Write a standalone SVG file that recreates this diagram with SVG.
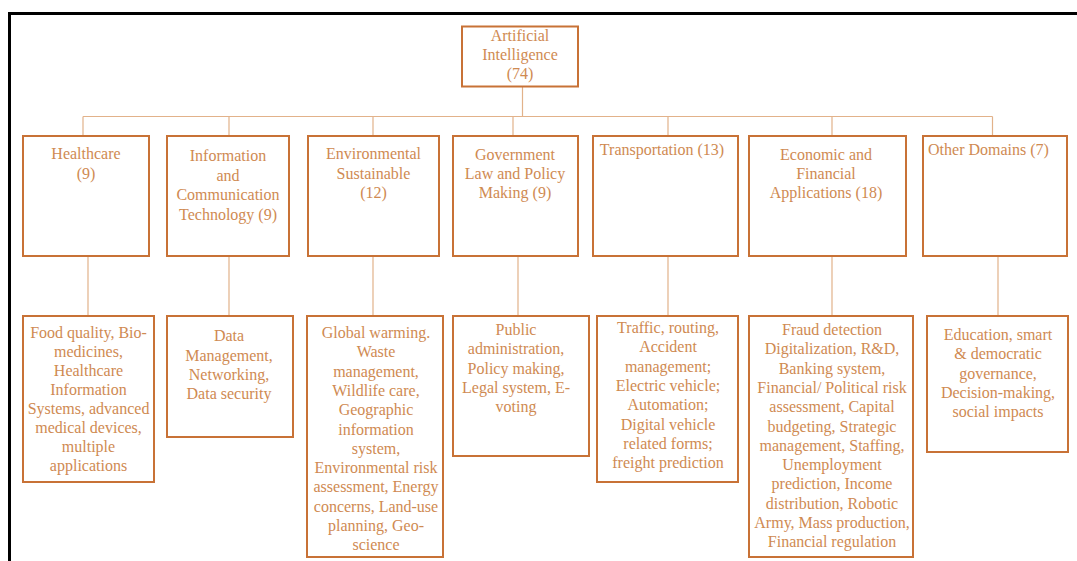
<svg xmlns="http://www.w3.org/2000/svg" width="1077" height="561" viewBox="0 0 1077 561">
<style>
.box{fill:#ffffff;stroke:#C87236;stroke-width:2}
.t{font-family:'Liberation Serif','Tinos','Times New Roman','DejaVu Serif',serif;font-size:16px;fill:#CF8A52;text-anchor:middle}
.c{stroke:#E2B28A;stroke-width:1.2;fill:none}
</style>
<rect x="0" y="0" width="1077" height="561" fill="#ffffff"/>
<path d="M9.5,561 V13.5 H1077" fill="none" stroke="#000000" stroke-width="3"/>
<g id="connectors">
<path class="c" d="M522.5,86 V116.5 M83,116.5 H992.5 M83,116.5 V136 M229,116.5 V136 M373,116.5 V136 M513,116.5 V136 M668,116.5 V136 M832,116.5 V136 M992.5,116.5 V136"/>
<path class="c" d="M88,256 V316 M229,256 V316 M373,256 V316 M518,256 V316 M668,256 V316 M832,256 V316 M998,256 V316"/>
</g>
<g id="root">
<rect class="box" x="462" y="26.5" width="116" height="60"/>
<text class="t" x="520" y="41">Artificial</text>
<text class="t" x="520" y="60">Intelligence</text>
<text class="t" x="520" y="79">(74)</text>
</g>
<g id="healthcare">
<rect class="box" x="23" y="136" width="126" height="120"/>
<text class="t" x="86" y="159">Healthcare</text>
<text class="t" x="86" y="179">(9)</text>
</g>
<g id="ict">
<rect class="box" x="167" y="136" width="122" height="120"/>
<text class="t" x="228" y="161">Information</text>
<text class="t" x="228" y="180.5">and</text>
<text class="t" x="228" y="200">Communication</text>
<text class="t" x="228" y="219.5">Technology (9)</text>
</g>
<g id="environmental">
<rect class="box" x="308" y="136" width="131" height="120"/>
<text class="t" x="373.5" y="159">Environmental</text>
<text class="t" x="373.5" y="178.5">Sustainable</text>
<text class="t" x="373.5" y="198">(12)</text>
</g>
<g id="government">
<rect class="box" x="453" y="136" width="125" height="120"/>
<text class="t" x="515" y="160">Government</text>
<text class="t" x="515" y="179">Law and Policy</text>
<text class="t" x="515" y="198">Making (9)</text>
</g>
<g id="transportation">
<rect class="box" x="593" y="136" width="145" height="120"/>
<text class="t" x="662" y="155">Transportation (13)</text>
</g>
<g id="economic">
<rect class="box" x="749" y="136" width="157" height="120"/>
<text class="t" x="826" y="160">Economic and</text>
<text class="t" x="826" y="179">Financial</text>
<text class="t" x="826" y="198">Applications (18)</text>
</g>
<g id="other">
<rect class="box" x="923" y="136" width="144" height="120"/>
<text class="t" x="988.5" y="155">Other Domains (7)</text>
</g>
<g id="healthcare-detail">
<rect class="box" x="23" y="316" width="131" height="166"/>
<text class="t" x="88.5" y="338">Food quality, Bio-</text>
<text class="t" x="88.5" y="357">medicines,</text>
<text class="t" x="88.5" y="376">Healthcare</text>
<text class="t" x="88.5" y="395">Information</text>
<text class="t" x="88.5" y="414">Systems, advanced</text>
<text class="t" x="88.5" y="433">medical devices,</text>
<text class="t" x="88.5" y="452">multiple</text>
<text class="t" x="88.5" y="471">applications</text>
</g>
<g id="ict-detail">
<rect class="box" x="167" y="316" width="126" height="121"/>
<text class="t" x="229" y="341">Data</text>
<text class="t" x="229" y="361">Management,</text>
<text class="t" x="229" y="380">Networking,</text>
<text class="t" x="229" y="399">Data security</text>
</g>
<g id="environmental-detail">
<rect class="box" x="307" y="316" width="136" height="241"/>
<text class="t" x="376" y="338">Global warming.</text>
<text class="t" x="376" y="357.3">Waste</text>
<text class="t" x="376" y="376.6">management,</text>
<text class="t" x="376" y="395.9">Wildlife care,</text>
<text class="t" x="376" y="415.2">Geographic</text>
<text class="t" x="376" y="434.5">information</text>
<text class="t" x="376" y="453.8">system,</text>
<text class="t" x="376" y="473.1">Environmental risk</text>
<text class="t" x="376" y="492.4">assessment, Energy</text>
<text class="t" x="376" y="511.7">concerns, Land-use</text>
<text class="t" x="376" y="531">planning, Geo-</text>
<text class="t" x="376" y="550.3">science</text>
</g>
<g id="government-detail">
<rect class="box" x="453" y="316" width="136" height="140"/>
<text class="t" x="516" y="335">Public</text>
<text class="t" x="516" y="354.3">administration,</text>
<text class="t" x="516" y="373.6">Policy making,</text>
<text class="t" x="516" y="392.9">Legal system, E-</text>
<text class="t" x="516" y="412.2">voting</text>
</g>
<g id="transportation-detail">
<rect class="box" x="597" y="316" width="141" height="166"/>
<text class="t" x="668" y="333">Traffic, routing,</text>
<text class="t" x="668" y="352.3">Accident</text>
<text class="t" x="668" y="371.6">management;</text>
<text class="t" x="668" y="390.9">Electric vehicle;</text>
<text class="t" x="668" y="410.2">Automation;</text>
<text class="t" x="668" y="429.5">Digital vehicle</text>
<text class="t" x="668" y="448.8">related forms;</text>
<text class="t" x="668" y="468.1">freight prediction</text>
</g>
<g id="economic-detail">
<rect class="box" x="749" y="316" width="164" height="241"/>
<text class="t" x="832" y="335">Fraud detection</text>
<text class="t" x="832" y="354.3">Digitalization, R&amp;D,</text>
<text class="t" x="832" y="373.6">Banking system,</text>
<text class="t" x="832" y="392.9">Financial/ Political risk</text>
<text class="t" x="832" y="412.2">assessment, Capital</text>
<text class="t" x="832" y="431.5">budgeting, Strategic</text>
<text class="t" x="832" y="450.8">management, Staffing,</text>
<text class="t" x="832" y="470.1">Unemployment</text>
<text class="t" x="832" y="489.4">prediction, Income</text>
<text class="t" x="832" y="508.7">distribution, Robotic</text>
<text class="t" x="832" y="528">Army, Mass production,</text>
<text class="t" x="832" y="547.3">Financial regulation</text>
</g>
<g id="other-detail">
<rect class="box" x="927" y="316" width="141" height="136"/>
<text class="t" x="998" y="340">Education, smart</text>
<text class="t" x="998" y="359.3">&amp; democratic</text>
<text class="t" x="998" y="378.6">governance,</text>
<text class="t" x="998" y="397.9">Decision-making,</text>
<text class="t" x="998" y="417.2">social impacts</text>
</g>
</svg>
